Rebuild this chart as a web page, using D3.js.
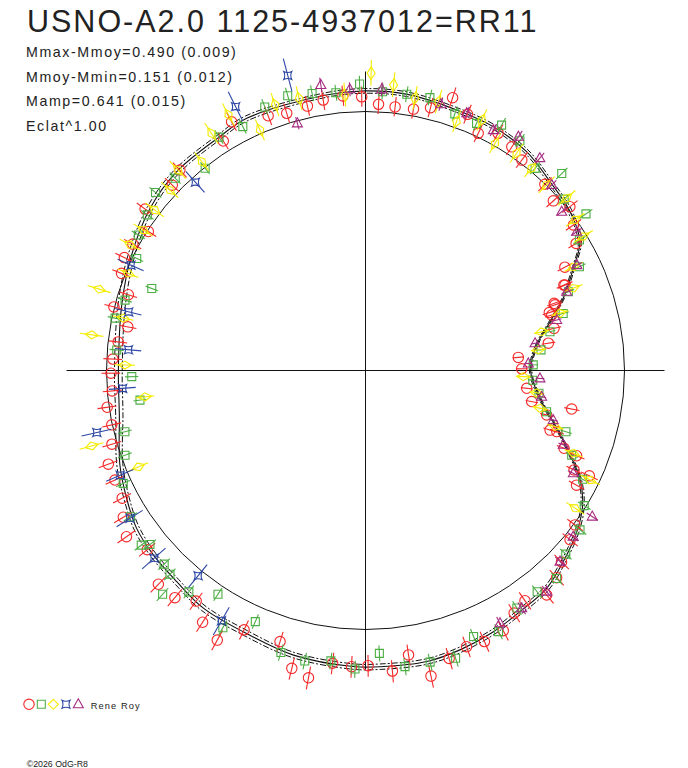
<!DOCTYPE html>
<html>
<head>
<meta charset="utf-8">
<script src="https://cdn.jsdelivr.net/npm/d3@7"></script>
<style>
  body { margin: 0; background: #fff; }
  svg { display: block; }
  text { font-family: "Liberation Sans", Arial, sans-serif; fill: #222; }
</style>
</head>
<body>
<svg id="chart"></svg>
<script>
// star + stats
let starName = 'USNO-A2.0 1125-4937012=RR11';
let statLabels = ['Mmax-Mmoy', 'Mmoy-Mmin', 'Mamp'];
let statValues = [0.490, 0.151, 0.641];
let statErrors = [0.009, 0.012, 0.015];
let eclatPow = 1.00;
let observer = 'Rene Roy';

// mean curve : [phase, mag - Mmoy]
let curvePhase = [0.0000, 0.0236, 0.0410, 0.0558, 0.0728, 0.0861, 0.1050, 0.1270, 0.1490, 0.1730,
  0.1960, 0.2260, 0.2500, 0.2725, 0.3200, 0.3392, 0.3708, 0.3972, 0.4269, 0.4583,
  0.5000, 0.5283, 0.5583, 0.5783, 0.5961, 0.6139, 0.6339, 0.6547, 0.6803, 0.7106,
  0.7433, 0.7578, 0.7831, 0.8019, 0.8225, 0.8406, 0.8606, 0.8778, 0.8964, 0.9117,
  0.9258, 0.9378, 0.9533, 0.9747];
let curveMag = [-0.489, -0.437, -0.332, -0.225, -0.121, -0.038, 0.000, 0.021, 0.052, 0.066,
  0.069, 0.082, 0.083, 0.078, 0.080, 0.067, 0.062, 0.044, 0.008, -0.028,
  -0.051, -0.038, 0.017, 0.049, 0.077, 0.089, 0.097, 0.114, 0.117, 0.136,
  0.146, 0.147, 0.150, 0.141, 0.126, 0.109, 0.097, 0.065, 0.028, -0.015,
  -0.083, -0.171, -0.282, -0.415];
let curveSigma = [0.008, 0.008, 0.008, 0.008, 0.008, 0.008, 0.009, 0.009, 0.009, 0.009,
  0.009, 0.009, 0.009, 0.009, 0.010, 0.010, 0.011, 0.012, 0.014, 0.016,
  0.017, 0.016, 0.013, 0.011, 0.011, 0.011, 0.011, 0.011, 0.011, 0.010,
  0.010, 0.010, 0.010, 0.010, 0.010, 0.010, 0.010, 0.009, 0.009, 0.008,
  0.008, 0.008, 0.008, 0.008];

// observations : [phase, mag - Mmoy]
let redPts = [[0.2522,0.060],[0.2631,0.067],[0.2747,0.060],[0.2844,0.048],[0.2973,0.041],[0.3081,0.056],
  [0.3286,0.094],[0.3383,0.045],[0.3689,0.058],[0.3783,0.036],[0.3994,0.058],[0.4094,-0.005],
  [0.4208,0.024],[0.4303,0.030],[0.4397,0.015],[0.4508,-0.043],[0.4606,0.002],[0.4711,-0.075],
  [0.4817,-0.043],[0.4928,-0.026],[0.5017,-0.019],[0.5128,-0.021],[0.5225,0.008],[0.5336,0.002],
  [0.5450,0.021],[0.5556,0.060],[0.5656,0.059],[0.5769,0.064],[0.5867,0.097],[0.5967,0.127],
  [0.6094,0.094],[0.6275,0.151],[0.6389,0.147],[0.6492,0.108],[0.6586,0.159],[0.6700,0.187],
  [0.6803,0.109],[0.7014,0.101],[0.7114,0.184],[0.7208,0.204],[0.7322,0.140],[0.7425,0.147],
  [0.7514,0.142],[0.7642,0.166],[0.7739,0.114],[0.7836,0.204],[0.7950,0.159],[0.8058,0.138],
  [0.8158,0.145],[0.8275,0.139],[0.8375,0.102],[0.8464,0.085],[0.8581,0.117],[0.8686,0.092],
  [0.8769,0.061],[0.8900,0.027],[0.8989,0.005],[0.9208,-0.082],[0.9300,-0.050],[0.9292,-0.124],
  [0.9389,-0.140],[0.9406,-0.211],[0.9508,-0.276],[0.9503,-0.314],[0.9706,-0.229],[0.9617,-0.356],
  [0.9706,-0.463],[0.9825,-0.508],[0.0017,-0.549],[0.0136,-0.569],[0.0236,-0.366],[0.0350,-0.318],
  [0.0461,-0.312],[0.0531,-0.278],[0.0644,-0.192],[0.2422,0.031],[0.2322,0.026],[0.2211,0.028],
  [0.2114,0.048],[0.2008,0.109],[0.1897,0.068],[0.1794,0.015],[0.1689,0.052],[0.1578,0.034],
  [0.1483,0.013],[0.1280,-0.002],[0.1169,-0.025],[0.1075,0.012],[0.0972,-0.022],[0.0864,-0.056],
  [0.0761,-0.155],[0.0647,-0.197],[0.0544,-0.279],[0.0486,-0.321]];

let greenPts = [[0.2533,0.110],[0.2669,0.082],[0.2803,0.093],[0.2939,0.106],[0.3081,0.093],[0.3242,0.057],
  [0.3392,0.067],[0.3567,-0.004],[0.3742,0.047],[0.3881,0.066],[0.4014,0.037],[0.4144,0.023],
  [0.4275,-0.018],[0.4417,-0.134],[0.4547,-0.036],[0.4672,-0.013],[0.4869,-0.040],[0.5042,-0.111],
  [0.5208,-0.141],[0.5397,-0.046],[0.5539,-0.017],[0.5694,0.034],[0.5886,0.072],[0.6053,0.101],
  [0.6081,0.073],[0.6219,0.082],[0.6283,0.094],[0.6328,0.167],[0.6428,0.097],[0.6572,0.037],
  [0.6694,0.138],[0.6842,0.062],[0.7036,0.139],[0.7172,0.148],[0.7311,0.132],[0.7444,0.155],
  [0.7578,0.097],[0.7711,0.155],[0.7847,0.155],[0.7983,0.165],[0.8114,0.112],[0.8250,0.134],
  [0.8403,0.091],[0.8550,0.085],[0.8683,0.094],[0.8819,0.052],[0.8983,0.034],[0.9119,-0.008],
  [0.9261,-0.070],[0.9380,-0.163],[0.9528,-0.230],[0.9644,-0.361],[0.9792,-0.426],[0.9908,-0.473],
  [0.0053,-0.471],[0.0589,-0.189],[0.0447,-0.250],[0.0330,-0.345],[0.0186,-0.415],[0.2403,0.082],
  [0.2264,0.082],[0.2131,0.086],[0.1967,0.052],[0.1828,0.049],[0.1694,0.087],[0.1558,0.072],
  [0.1389,0.020],[0.1253,0.077],[0.1133,0.014],[0.0983,0.047],[0.0872,-0.036],[0.0719,-0.093]];

let yellowPts = [[0.2470,0.150],[0.2619,0.070],[0.2881,0.085],[0.3022,0.087],[0.3158,0.015],[0.3283,0.123],
  [0.3417,0.095],[0.3558,0.026],[0.3697,0.063],[0.3814,0.029],[0.3964,0.024],[0.4103,0.016],
  [0.4219,0.033],[0.4381,-0.011],[0.4528,0.078],[0.4661,-0.048],[0.4794,0.069],[0.4964,-0.080],
  [0.5189,-0.167],[0.5428,0.100],[0.5639,-0.053],[0.2344,0.111],[0.2214,0.072],[0.2078,0.079],
  [0.1942,0.025],[0.1808,0.069],[0.1675,0.010],[0.1533,0.023],[0.1406,0.011],[0.1270,0.001],
  [0.1128,0.024],[0.0992,-0.004],[0.0878,-0.014],[0.0736,-0.118],[0.0600,-0.160],[0.0344,-0.393],
  [0.0456,-0.266],[0.0189,-0.432],[0.9938,-0.537],[0.9794,-0.441],[0.9661,-0.404],[0.9542,-0.293],
  [0.9397,-0.159],[0.9278,-0.039],[0.9075,-0.035]];

let bluePts = [[0.2910,0.178],[0.3228,0.138],[0.3669,-0.022],[0.4328,-0.008],[0.4614,-0.065],[0.4861,-0.092],
  [0.5117,-0.067],[0.5361,0.068],[0.5642,0.032],[0.5892,0.077],[0.6156,0.095],[0.6411,0.024],
  [0.6669,0.118]];

let purplePts = [[0.2747,0.119],[0.2589,0.091],[0.2928,-0.011],[0.2408,0.091],[0.2061,0.072],[0.1903,0.071],
  [0.1722,0.054],[0.1578,0.082],[0.1406,0.064],[0.1247,0.016],[0.1083,-0.028],[0.0925,-0.027],
  [0.0736,-0.100],[0.0594,-0.197],[0.0411,-0.293],[0.0253,-0.446],[0.0069,-0.503],[0.9928,-0.428],
  [0.9764,-0.407],[0.9589,-0.313],[0.9428,-0.221],[0.9269,-0.120],[0.9089,0.044],[0.8925,0.029],
  [0.8764,0.056],[0.8592,0.107],[0.8425,0.102],[0.8278,0.109]];

// typical error (mag) per series
let seriesErr = [0.040, 0.031, 0.047, 0.060, 0.027];

let width = 688;
let height = 768;
let cx = 365.5;
let cy = 370.5;
let R0 = 259;
let axisHalf = 299;

let svg = d3.select('#chart')
  .attr('width', width)
  .attr('height', height);

svg.append('rect')
  .attr('width', width)
  .attr('height', height)
  .attr('fill', '#fff');

// radius is proportional to 1 / eclat (mean level = circle)
let rScale = d3.scaleLinear().domain([0, 1]).range([0, R0]);
let radius = dm => rScale(Math.pow(Math.pow(10, 0.4 * dm), eclatPow));
// phase 0 on the right, increasing counter-clockwise
let aScale = d3.scaleLinear().domain([0, 1]).range([Math.PI / 2, Math.PI / 2 - 2 * Math.PI]);

let plot = svg.append('g')
  .attr('transform', `translate(${cx},${cy})`);

// reference circle
plot.append('circle')
  .attr('r', rScale(1))
  .attr('fill', 'none')
  .attr('stroke', '#111')
  .attr('stroke-width', 1);

// axes
plot.append('line')
  .attr('x1', -axisHalf).attr('x2', axisHalf)
  .attr('y1', 0).attr('y2', 0)
  .attr('stroke', '#111');
plot.append('line')
  .attr('x1', 0).attr('x2', 0)
  .attr('y1', -axisHalf).attr('y2', axisHalf)
  .attr('stroke', '#111');

// mean curve + band
let knots = curvePhase.map((p, i) => ({ p: p, m: curveMag[i], s: curveSigma[i] }));

let radialLine = off => d3.lineRadial()
  .angle(d => aScale(d.p))
  .radius(d => radius(d.m + off * d.s))
  .curve(d3.curveCatmullRomClosed.alpha(0.5));

[-1, 1].forEach(off => {
  plot.append('path')
    .attr('d', radialLine(off)(knots))
    .attr('fill', 'none')
    .attr('stroke', '#111')
    .attr('stroke-width', 1)
    .attr('stroke-dasharray', '6,2,2,2');
});

plot.append('path')
  .attr('d', radialLine(0)(knots))
  .attr('fill', 'none')
  .attr('stroke', '#111')
  .attr('stroke-width', 1.1);

// marker shapes
let shapes = {
  circle: 'M5.2,0A5.2,5.2 0 1,1 -5.2,0A5.2,5.2 0 1,1 5.2,0Z',
  square: 'M-4,-4H4V4H-4Z',
  diamond: 'M0,-6.5L4,0L0,6.5L-4,0Z',
  star: 'M-4,-4Q0,-2 4,-4Q2,0 4,4Q0,2 -4,4Q-2,0 -4,-4Z',
  triangle: 'M0,-5.5L5,3.5L-5,3.5Z'
};

let series = [
  { data: redPts, color: '#f42828', shape: 'circle', rotate: false },
  { data: greenPts, color: '#4cae44', shape: 'square', rotate: false },
  { data: yellowPts, color: '#f4ec00', shape: 'diamond', rotate: true },
  { data: bluePts, color: '#2c46a4', shape: 'star', rotate: false },
  { data: purplePts, color: '#a42a80', shape: 'triangle', rotate: false }
];

series.forEach((s, si) => {
  let err = seriesErr[si];
  let g = plot.append('g')
    .attr('fill', 'none')
    .attr('stroke', s.color)
    .attr('stroke-width', 1.1);

  let pts = g.selectAll('g')
    .data(s.data)
    .enter()
    .append('g');

  pts.append('line')
    .attr('x1', d => radius(d[1] - err) * Math.sin(aScale(d[0])))
    .attr('y1', d => -radius(d[1] - err) * Math.cos(aScale(d[0])))
    .attr('x2', d => radius(d[1] + err) * Math.sin(aScale(d[0])))
    .attr('y2', d => -radius(d[1] + err) * Math.cos(aScale(d[0])));

  pts.append('path')
    .attr('d', shapes[s.shape])
    .attr('transform', d => {
      let a = aScale(d[0]);
      let r = radius(d[1]);
      let t = `translate(${r * Math.sin(a)},${-r * Math.cos(a)})`;
      if (s.rotate) t += ` rotate(${a * 180 / Math.PI})`;
      return t;
    });
});

// texts
svg.append('text')
  .attr('x', 27)
  .attr('y', 31.7)
  .attr('font-size', 30.5)
  .attr('letter-spacing', 2)
  .text(starName);

let statLines = statLabels.map((l, i) =>
  `${l}=${statValues[i].toFixed(3)} (${statErrors[i].toFixed(3)})`);
statLines.push('Eclat^' + eclatPow.toFixed(2));

svg.selectAll('text.stat')
  .data(statLines)
  .enter()
  .append('text')
    .classed('stat', true)
    .attr('x', 26)
    .attr('y', (d, i) => 56.7 + i * 24.8)
    .attr('font-size', 14.2)
    .attr('letter-spacing', 1.6)
    .text(d => d);

// legend
let legend = svg.append('g')
  .attr('transform', 'translate(29,704.3)');

series.forEach((s, i) => {
  legend.append('path')
    .attr('d', s.shape === 'diamond' ? 'M0,-5L5,0L0,5L-5,0Z' : shapes[s.shape])
    .attr('transform', `translate(${[0, 12.3, 24.3, 37, 49.3][i]},0)`)
    .attr('fill', 'none')
    .attr('stroke', s.color)
    .attr('stroke-width', 1.1);
});

legend.append('text')
  .attr('x', 61.7)
  .attr('y', 5)
  .attr('font-size', 9.3)
  .attr('letter-spacing', 1.1)
  .text(observer);

svg.append('text')
  .attr('x', 26.7)
  .attr('y', 766.5)
  .attr('font-size', 8.8)
  .text('©2026 OdG-R8');
</script>
</body>
</html>
